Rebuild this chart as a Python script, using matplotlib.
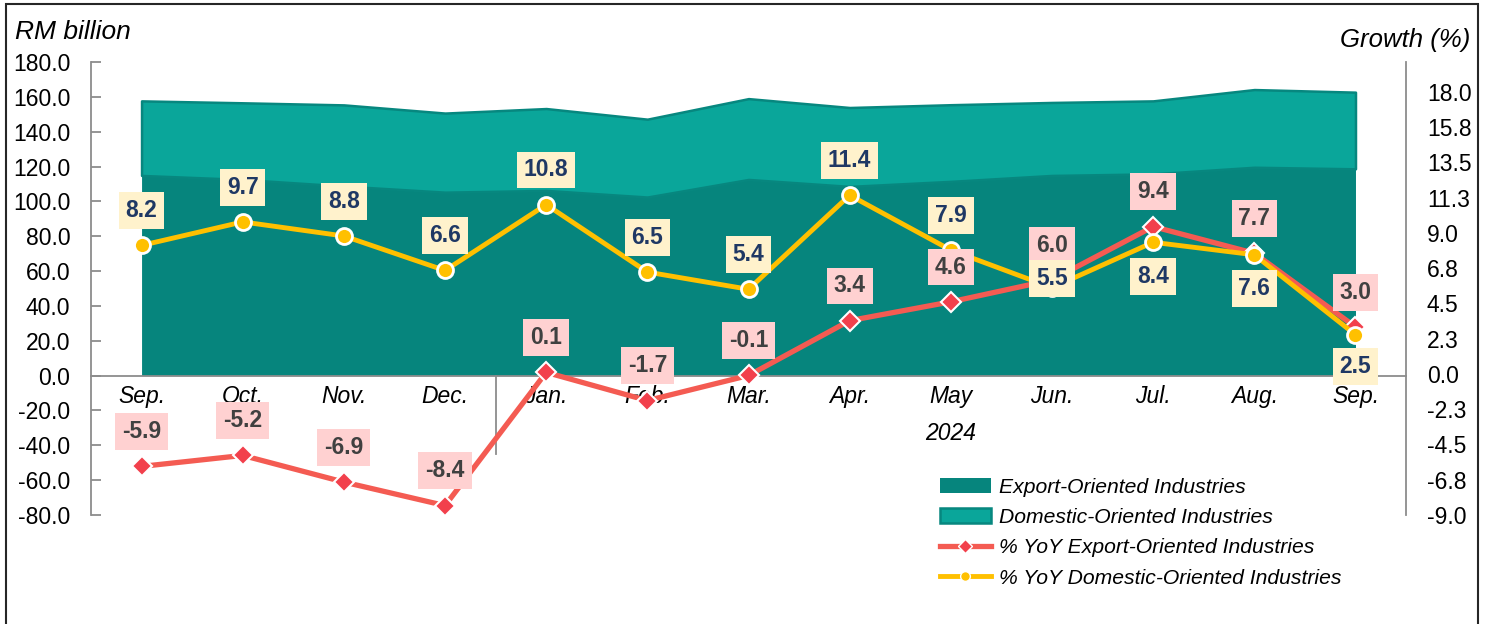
import numpy as np
import matplotlib.pyplot as plt
from matplotlib.patches import Patch, Rectangle
from matplotlib.lines import Line2D

plt.rcParams['font.family'] = ['Liberation Sans', 'DejaVu Sans']

# data
months = ['Sep.', 'Oct.', 'Nov.', 'Dec.', 'Jan.', 'Feb.', 'Mar.', 'Apr.', 'May', 'Jun.', 'Jul.', 'Aug.', 'Sep.']
year_label = '2024'
export_rm = [114.9, 112.6, 108.8, 105.3, 106.3, 102.5, 112.6, 108.6, 111.5, 114.9, 115.8, 119.6, 118.7]
domestic_rm = [42.8, 44.0, 46.6, 45.4, 47.0, 44.7, 46.4, 45.3, 44.0, 41.9, 41.9, 44.6, 44.0]
export_yoy = [-5.9, -5.2, -6.9, -8.4, 0.1, -1.7, -0.1, 3.4, 4.6, 6.0, 9.4, 7.7, 3.0]
domestic_yoy = [8.2, 9.7, 8.8, 6.6, 10.8, 6.5, 5.4, 11.4, 7.9, 5.5, 8.4, 7.6, 2.5]
left_ticks = [-80, -60, -40, -20, 0, 20, 40, 60, 80, 100, 120, 140, 160, 180]
right_ticks = [-9.0, -6.75, -4.5, -2.25, 0.0, 2.25, 4.5, 6.75, 9.0, 11.25, 13.5, 15.75, 18.0]
right_tick_labels = ['-9.0', '-6.8', '-4.5', '-2.3', '0.0', '2.3', '4.5', '6.8', '9.0', '11.3', '13.5', '15.8', '18.0']
legend_labels = ['Export-Oriented Industries', 'Domestic-Oriented Industries',
                 '% YoY Export-Oriented Industries', '% YoY Domestic-Oriented Industries']

# colours
EXPORT_C = '#06857D'
DOM_C = '#0AA69A'
DOM_EDGE = '#07877F'
RED = '#F45B52'
RED_MK = '#F2404C'
GOLD = '#FFC000'
GREY = '#8C8C8C'

# label offsets (points) for the growth labels
dom_off = [25, 25, 25, 25, 25, 25, 25, 25, 25, 6.5, -24.5, -24.5, -23]
exp_off = 25

fig = plt.figure(figsize=(14.89, 6.24), dpi=100)
ax = fig.add_axes([0.0611, 0.1747, 0.8832, 0.7259])
x = np.arange(len(months))
total = np.array(export_rm) + np.array(domestic_rm)

# stacked areas
ax.fill_between(x, 0, export_rm, color=EXPORT_C, lw=0, zorder=1)
ax.fill_between(x, export_rm, total, facecolor=DOM_C, edgecolor=DOM_EDGE, lw=1.8, zorder=1)

ax.set_xlim(-0.5, 12.5)
ax.set_ylim(-80, 180)
ax.set_yticks(left_ticks)
ax.set_yticklabels([f'{t:.1f}' for t in left_ticks])
ax.tick_params(axis='y', direction='in', length=7, width=1.3, color=GREY, labelsize=16.5, pad=15)
ax.spines['left'].set_color(GREY)
ax.spines['left'].set_linewidth(1.3)
ax.spines['right'].set_visible(False)
ax.spines['top'].set_visible(False)
ax.spines['bottom'].set_position(('data', 0))
ax.spines['bottom'].set_color(GREY)
ax.spines['bottom'].set_linewidth(1.3)
ax.spines['bottom'].set_zorder(2)
ax.set_xticks(x)
ax.set_xticklabels(months, fontstyle='italic')
ax.tick_params(axis='x', length=0, labelsize=16.5, pad=7)

# separator between years and the year label
ax.plot([3.5, 3.5], [0, -45], color=GREY, lw=1.3, clip_on=False, zorder=2)
ax.text(8, -33, year_label, ha='center', va='center', fontsize=16.5, fontstyle='italic')

# growth lines on the right axis
ax2 = ax.twinx()
ax2.set_ylim(-9, 19.9)
ax2.set_yticks(right_ticks)
ax2.set_yticklabels(right_tick_labels)
ax2.tick_params(axis='y', length=0, labelsize=16.5, pad=15)
for s in ['left', 'top', 'bottom']:
    ax2.spines[s].set_visible(False)
ax2.spines['right'].set_color(GREY)
ax2.spines['right'].set_linewidth(1.3)

ax2.plot(x, export_yoy, color=RED, lw=3.8, marker='D', ms=10.5, mfc=RED_MK,
         mec='white', mew=1.5, zorder=3)
ax2.plot(x, domestic_yoy, color=GOLD, lw=3.5, marker='o', ms=11.5, mfc=GOLD,
         mec='white', mew=2, zorder=4)

for i, v in enumerate(export_yoy):
    ax2.annotate(f'{v:.1f}', (i, v), xytext=(0, exp_off), textcoords='offset points',
                 ha='center', va='center', fontsize=16.5, fontweight='bold', color='#404040',
                 bbox=dict(boxstyle='square,pad=0.3', fc='#FFD1D1', ec='none'), zorder=5)
for i, v in enumerate(domestic_yoy):
    ax2.annotate(f'{v:.1f}', (i, v), xytext=(0, dom_off[i]), textcoords='offset points',
                 ha='center', va='center', fontsize=16.5, fontweight='bold', color='#1F3864',
                 bbox=dict(boxstyle='square,pad=0.3', fc='#FFF2CC', ec='none'), zorder=5)

# axis titles
fig.text(15 / 1489, 1 - 32 / 624, 'RM billion', ha='left', va='center', fontsize=19, fontstyle='italic')
fig.text(1470 / 1489, 1 - 40 / 624, 'Growth (%)', ha='right', va='center', fontsize=18.5, fontstyle='italic')

# legend
handles = [
    Patch(fc=EXPORT_C, ec='none'),
    Patch(fc=DOM_C, ec=DOM_EDGE, lw=1.8),
    Line2D([], [], color=RED, lw=3.8, marker='D', ms=7, mfc=RED_MK, mec='white', mew=1),
    Line2D([], [], color=GOLD, lw=3.5, marker='o', ms=7, mfc=GOLD, mec='white', mew=1),
]
leg = ax2.legend(handles, legend_labels, loc='upper left', bbox_to_anchor=(940 / 1489, 1 - 478 / 624),
                 bbox_transform=fig.transFigure, frameon=False, borderpad=0, borderaxespad=0,
                 handlelength=2.4, handletextpad=0.4, labelspacing=0.53,
                 prop={'size': 15.2, 'style': 'italic'})

# outer border
fig.add_artist(Rectangle((6 / 1489, -0.02), 1472 / 1489, 1 - 4 / 624 + 0.02,
                         transform=fig.transFigure, fill=False, ec='#262626', lw=1.5))

fig.savefig('out.png', dpi=100)
